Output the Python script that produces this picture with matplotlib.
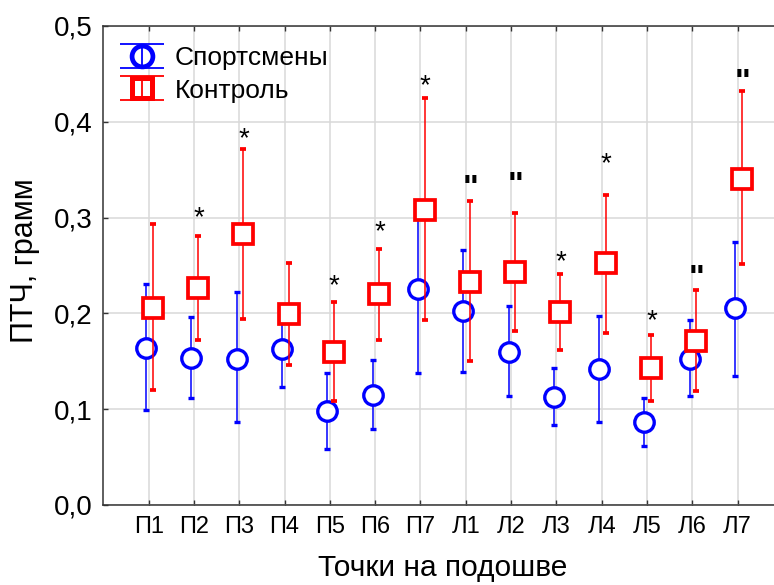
import matplotlib
matplotlib.use('Agg')
import matplotlib.pyplot as plt
from matplotlib.lines import Line2D
from matplotlib.path import Path
import numpy as np

plt.rcParams['font.family'] = ['Liberation Sans', 'DejaVu Sans']

# точки на подошве
cats = ['П1', 'П2', 'П3', 'П4', 'П5', 'П6', 'П7',
        'Л1', 'Л2', 'Л3', 'Л4', 'Л5', 'Л6', 'Л7']

# спортсмены: среднее, нижняя и верхняя граница
sport_mean = [0.164, 0.153, 0.152, 0.163, 0.098, 0.115, 0.225, 0.202, 0.160, 0.113, 0.142, 0.086, 0.152, 0.205]
sport_lo = [0.099, 0.112, 0.086, 0.123, 0.058, 0.079, 0.138, 0.139, 0.114, 0.083, 0.086, 0.061, 0.114, 0.135]
sport_hi = [0.231, 0.196, 0.222, 0.205, 0.138, 0.151, 0.300, 0.266, 0.208, 0.143, 0.197, 0.112, 0.193, 0.274]

# контроль
ctrl_mean = [0.206, 0.226, 0.283, 0.199, 0.160, 0.220, 0.308, 0.233, 0.243, 0.201, 0.252, 0.143, 0.171, 0.340]
ctrl_lo = [0.120, 0.172, 0.194, 0.146, 0.108, 0.172, 0.193, 0.150, 0.181, 0.162, 0.179, 0.108, 0.119, 0.251]
ctrl_hi = [0.293, 0.281, 0.372, 0.253, 0.212, 0.267, 0.425, 0.317, 0.305, 0.241, 0.324, 0.177, 0.224, 0.432]

# значимость
marks = ['', '*', '*', '', '*', '*', '*', '"', '"', '*', '*', '*', '"', '"']
mark_y = [0, 0.308, 0.390, 0, 0.237, 0.293, 0.446, 0.339, 0.342, 0.262, 0.364, 0.200, 0.245, 0.450]

x = np.arange(1, len(cats) + 1)
sm = np.array(sport_mean)
cm = np.array(ctrl_mean)

fig = plt.figure(figsize=(7.74, 5.85), dpi=100)
ax = fig.add_axes([0.1335, 0.1371, 0.8780, 0.8185])

ax.grid(True, color='#d9d9d9', linewidth=1.1, zorder=0)
ax.set_axisbelow(True)

ax.errorbar(x - 0.055, sm, yerr=[sm - np.array(sport_lo), np.array(sport_hi) - sm],
            fmt='o', color='#0000ff', mfc='white', mec='#0000ff', ms=14, mew=2.4,
            elinewidth=1.1, capsize=2.2, capthick=1.1, zorder=3)
ax.errorbar(x + 0.09, cm, yerr=[cm - np.array(ctrl_lo), np.array(ctrl_hi) - cm],
            fmt='s', color='#ff0000', mfc='white', mec='#ff0000', ms=14, mew=2.7,
            elinewidth=1.1, capsize=2.2, capthick=1.1, zorder=4)

for i in range(len(cats)):
    if marks[i] == '*':
        ax.annotate(marks[i], xy=(x[i] + 0.1, mark_y[i]), xytext=(0, -11),
                    textcoords='offset points', ha='center', va='baseline',
                    fontsize=20, color='black', zorder=5)
    elif marks[i] == '"':
        ax.annotate(marks[i], xy=(x[i] + 0.1, mark_y[i]), xytext=(0, -13),
                    textcoords='offset points', ha='center', va='baseline',
                    fontsize=24, fontweight='bold', color='black', zorder=5)

# легенда: маркер + "засечки" как в Statistica
caps = Path([(-1, -0.56), (1, -0.56), (-1, 0.56), (1, 0.56), (0, -0.56), (0, 0.56)],
            [Path.MOVETO, Path.LINETO, Path.MOVETO, Path.LINETO, Path.MOVETO, Path.LINETO])
h1 = (Line2D([], [], ls='', marker='o', ms=15, mfc='white', mec='#0000ff', mew=3.4),
      Line2D([], [], ls='', marker=caps, ms=32, mfc='none', mec='#0000ff', mew=1.3))
h2 = (Line2D([], [], ls='', marker='s', ms=15, mfc='white', mec='#ff0000', mew=3.6),
      Line2D([], [], ls='', marker=caps, ms=32, mfc='none', mec='#ff0000', mew=1.3))
ax.legend([h1, h2], ['Спортсмены', 'Контроль'], loc='upper left',
          bbox_to_anchor=(0.024, 0.958), frameon=False, fontsize=19,
          handlelength=1.7, handletextpad=0.4, labelspacing=0.32,
          borderaxespad=0, borderpad=0)

ax.set_xlim(0, 15)
ax.set_ylim(0, 0.5)
ax.set_xticks(x)
ax.set_xticklabels(cats, fontsize=17)
yt = [0.0, 0.1, 0.2, 0.3, 0.4, 0.5]
ax.set_yticks(yt)
ax.set_yticklabels([('%.1f' % v).replace('.', ',') for v in yt], fontsize=20)
ax.tick_params(axis='both', direction='in', length=3.5, width=1, color='#333333',
               top=True, right=True)
ax.tick_params(axis='x', pad=8)
ax.tick_params(axis='y', pad=8)

for s in ax.spines.values():
    s.set_color('#333333')
    s.set_linewidth(1.1)

ax.set_xlabel('Точки на подошве', fontsize=21.5, va='baseline')
ax.xaxis.set_label_coords(0.4996, -0.149)
ax.set_ylabel('ПТЧ, грамм', fontsize=22, va='baseline')
ax.yaxis.set_label_coords(-0.103, 0.509)

plt.savefig('out.png', dpi=100)
